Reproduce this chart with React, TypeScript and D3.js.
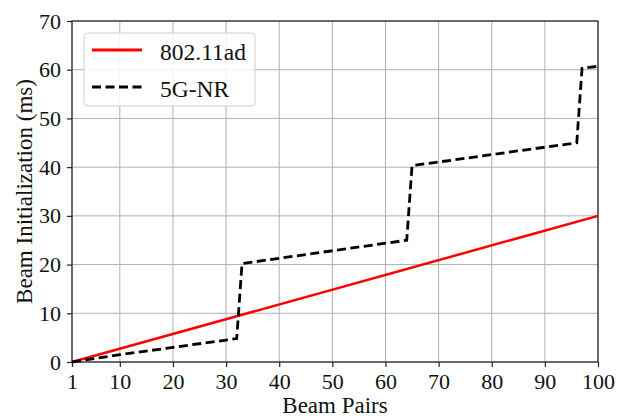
import React, { useRef, useEffect } from "react";
import * as d3 from "d3";

// beam pairs vs. initialization time (ms)
const wifiX = [1, 100];
const wifiY = [0, 30];
const nrX = [1, 10, 20, 32, 33, 64, 65, 96, 97, 100];
const nrY = [0, 1.5, 3, 4.8, 20.2, 25, 40.3, 45, 60.3, 60.7];
const xTicks = [1, 10, 20, 30, 40, 50, 60, 70, 80, 90, 100];
const yTicks = [0, 10, 20, 30, 40, 50, 60, 70];

export default function App() {
  const svgRef = useRef<SVGSVGElement>(null);

  useEffect(() => {
    const width = 617;
    const height = 418;
    const m = { left: 72, right: 19, top: 21, bottom: 56 };
    const font = "'Liberation Serif', 'Times New Roman', serif";

    const svg = d3.select(svgRef.current);
    svg.selectAll("*").remove();

    const x = d3.scaleLinear().domain([1, 100]).range([m.left, width - m.right]);
    const y = d3.scaleLinear().domain([0, 70]).range([height - m.bottom, m.top]);

    // grid
    const grid = svg.append("g").attr("stroke", "#b0b0b0").attr("stroke-width", 1);
    grid
      .selectAll("line.gx")
      .data(xTicks)
      .join("line")
      .attr("x1", (d) => x(d))
      .attr("x2", (d) => x(d))
      .attr("y1", y(0))
      .attr("y2", y(70));
    grid
      .selectAll("line.gy")
      .data(yTicks)
      .enter()
      .append("line")
      .attr("x1", x(1))
      .attr("x2", x(100))
      .attr("y1", (d) => y(d))
      .attr("y2", (d) => y(d));

    // axes
    const xAxis = svg
      .append("g")
      .attr("transform", `translate(0,${y(0)})`)
      .call(d3.axisBottom(x).tickValues(xTicks).tickSize(5).tickPadding(6));
    const yAxis = svg
      .append("g")
      .attr("transform", `translate(${x(1)},0)`)
      .call(d3.axisLeft(y).tickValues(yTicks).tickSize(5).tickPadding(6));
    [xAxis, yAxis].forEach((a) => {
      a.select(".domain").remove();
      a.selectAll("line").attr("stroke", "#222").attr("stroke-width", 1.2);
      a.selectAll("text")
        .attr("font-family", font)
        .attr("font-size", 22)
        .attr("fill", "#111");
    });

    svg
      .append("rect")
      .attr("x", x(1))
      .attr("y", y(70))
      .attr("width", x(100) - x(1))
      .attr("height", y(0) - y(70))
      .attr("fill", "none")
      .attr("stroke", "#222")
      .attr("stroke-width", 1.2);

    // series
    const line = d3
      .line<[number, number]>()
      .x((d) => x(d[0]))
      .y((d) => y(d[1]));

    svg
      .append("path")
      .datum(wifiX.map((v, i) => [v, wifiY[i]] as [number, number]))
      .attr("d", line)
      .attr("fill", "none")
      .attr("stroke", "#ff0000")
      .attr("stroke-width", 2.5);

    svg
      .append("path")
      .datum(nrX.map((v, i) => [v, nrY[i]] as [number, number]))
      .attr("d", line)
      .attr("fill", "none")
      .attr("stroke", "#000")
      .attr("stroke-width", 2.8)
      .attr("stroke-dasharray", "9,4.5");

    // legend
    const lg = svg.append("g").attr("transform", "translate(84,33)");
    lg.append("rect")
      .attr("width", 171)
      .attr("height", 73)
      .attr("rx", 4)
      .attr("fill", "#fff")
      .attr("fill-opacity", 0.85)
      .attr("stroke", "#d0d0d0");
    const items = [
      { name: "802.11ad", color: "#ff0000", dash: null },
      { name: "5G-NR", color: "#000", dash: "9,4.5" },
    ];
    items.forEach((it, i) => {
      const yy = 17 + i * 37;
      lg.append("line")
        .attr("x1", 8)
        .attr("x2", 58)
        .attr("y1", yy)
        .attr("y2", yy)
        .attr("stroke", it.color)
        .attr("stroke-width", 2.8)
        .attr("stroke-dasharray", it.dash);
      lg.append("text")
        .attr("x", 76)
        .attr("y", yy + 10)
        .attr("font-family", font)
        .attr("font-size", 23.5)
        .attr("fill", "#111")
        .text(it.name);
    });

    // axis titles
    svg
      .append("text")
      .attr("x", (x(1) + x(100)) / 2)
      .attr("y", 413)
      .attr("text-anchor", "middle")
      .attr("font-family", font)
      .attr("font-size", 23)
      .attr("fill", "#111")
      .text("Beam Pairs");
    svg
      .append("text")
      .attr("transform", `translate(32,${(y(0) + y(70)) / 2}) rotate(-90)`)
      .attr("text-anchor", "middle")
      .attr("font-family", font)
      .attr("font-size", 23)
      .attr("fill", "#111")
      .text("Beam Initialization (ms)");
  }, []);

  return (
    <svg
      ref={svgRef}
      width={617}
      height={418}
      style={{ position: "absolute", left: 0, top: 0, background: "#fff" }}
    />
  );
}
